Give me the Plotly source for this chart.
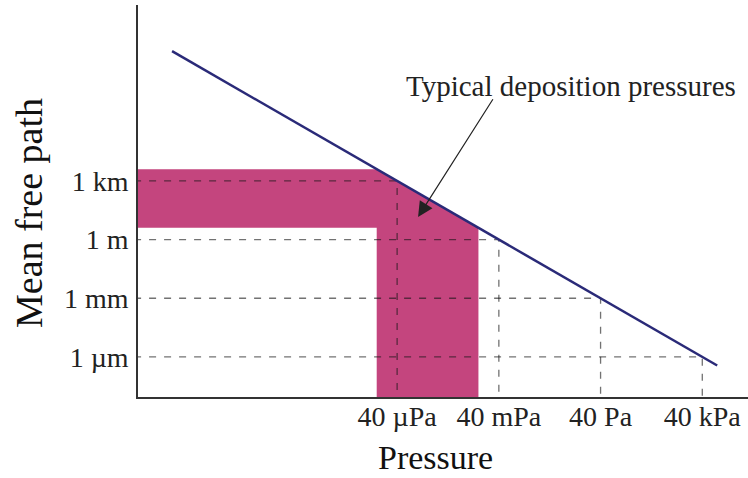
import numpy as np
import plotly.graph_objects as go

# Tick positions and labels
pressure_ticks_pa = [4e-5, 4e-2, 4e1, 4e4]
pressure_labels = ["40 µPa", "40 mPa", "40 Pa", "40 kPa"]
mfp_ticks_m = [1e3, 1.0, 1e-3, 1e-6]
mfp_labels = ["1 km", "1 m", "1 mm", "1 µm"]

# Mean free path vs pressure (λ ∝ 1/P)
line_pressure_pa = [9.2e-12, 1.1e5]
line_mfp_m = [4.35e9, 3.64e-7]

# Typical deposition window
dep_pressure_pa = [1e-5, 1e-2]
dep_mfp_m = [4.0, 4000.0]

# Axis extents (log10 units)
x_range = [-12.04, 5.95]
y_range = [-8.05, 12.0]
x_lo, y_lo = 10 ** (x_range[0] - 1), 10 ** (y_range[0] - 1)

SERIF = "Liberation Serif, Times New Roman, serif"
MAGENTA = "#C4457E"
NAVY = "#2A2A78"
DASH = "rgba(20,20,20,0.6)"

fig = go.Figure()

# L-shaped shaded region below the curve
px = [x_lo, dep_pressure_pa[0], dep_pressure_pa[1], dep_pressure_pa[1],
      dep_pressure_pa[0], dep_pressure_pa[0], x_lo]
py = [dep_mfp_m[1], dep_mfp_m[1], dep_mfp_m[0], y_lo, y_lo, dep_mfp_m[0], dep_mfp_m[0]]
fig.add_trace(go.Scatter(x=px, y=py, mode="lines", fill="toself", fillcolor=MAGENTA,
                         line=dict(width=0, color=MAGENTA), hoverinfo="skip", showlegend=False))

# Dashed guides from each tick pair to the curve
for p, m in zip(pressure_ticks_pa, mfp_ticks_m):
    fig.add_trace(go.Scatter(x=[x_lo, p, p], y=[m, m, y_lo], mode="lines",
                             line=dict(color=DASH, width=1.3, dash="7px,8px"),
                             hoverinfo="skip", showlegend=False))

# Mean free path curve
fig.add_trace(go.Scatter(x=line_pressure_pa, y=line_mfp_m, mode="lines",
                         line=dict(color=NAVY, width=2.5), showlegend=False))

# Callout arrow and text
head = (1.66e-4, 14.5)
tail = (2.85e-2, 1.8e7)
fig.add_annotation(x=np.log10(head[0]), y=np.log10(head[1]), xref="x", yref="y",
                   ax=np.log10(tail[0]), ay=np.log10(tail[1]), axref="x", ayref="y",
                   text="", showarrow=True, arrowhead=2, arrowsize=2.5, arrowwidth=1.2,
                   arrowcolor="#222222")
fig.add_annotation(x=(571 - 138) / 610, y=(397 - 86) / 392, xref="paper", yref="paper",
                   text="Typical deposition pressures", showarrow=False,
                   xanchor="center", yanchor="middle",
                   font=dict(family=SERIF, size=29, color="#222222"))

# Axis titles
fig.add_annotation(x=(435.5 - 138) / 610, y=(397 - 458) / 392, xref="paper", yref="paper",
                   text="Pressure", showarrow=False, xanchor="center", yanchor="middle",
                   font=dict(family=SERIF, size=34, color="#111111"))
fig.add_annotation(x=(29 - 138) / 610, y=(397 - 213) / 392, xref="paper", yref="paper",
                   text="Mean free path", showarrow=False, textangle=-90,
                   xanchor="center", yanchor="middle",
                   font=dict(family=SERIF, size=38, color="#111111"))

fig.update_xaxes(type="log", range=x_range, tickvals=pressure_ticks_pa, ticktext=pressure_labels,
                 showgrid=False, zeroline=False, showline=True, linecolor="#333333", linewidth=1.5,
                 ticks="", ticklabelstandoff=-6,
                 tickfont=dict(family=SERIF, size=28, color="#222222"))
fig.update_yaxes(type="log", range=y_range, tickvals=mfp_ticks_m, ticktext=mfp_labels,
                 showgrid=False, zeroline=False, showline=True, linecolor="#333333", linewidth=1.5,
                 ticks="", ticklabelstandoff=2,
                 tickfont=dict(family=SERIF, size=28, color="#222222"))

fig.update_layout(width=748, height=478, margin=dict(l=138, r=0, t=5, b=81),
                  plot_bgcolor="white", paper_bgcolor="white")

fig.write_html("out.html")
